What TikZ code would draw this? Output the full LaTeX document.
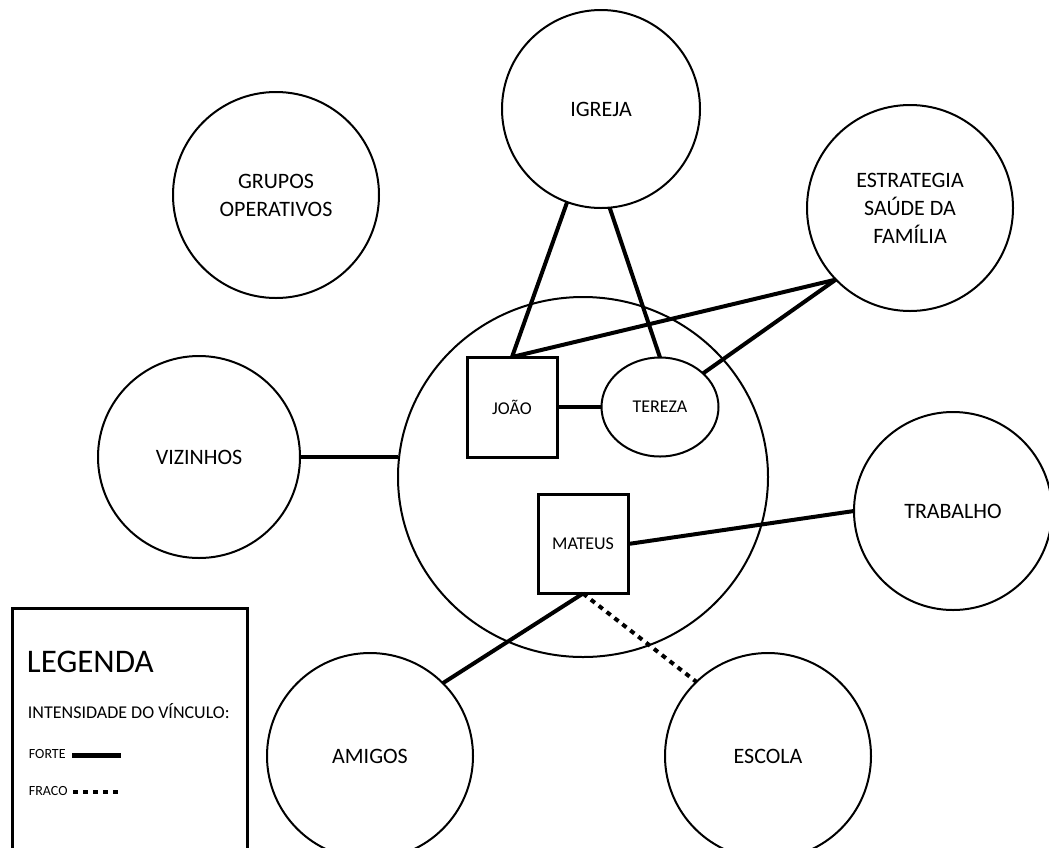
\documentclass[tikz,border=0pt]{standalone}
\usepackage{fontspec}
\setmainfont{Carlito}
\usetikzlibrary{shapes.geometric}

\begin{document}
\begin{tikzpicture}[x = 0.5pt, y = -0.5pt,
        rede/.style = {circle, draw, line width=1pt, inner sep=0pt,
        outer sep=0pt, align=center, font=\fontsize{11}{14}\selectfont},
        membro/.style = {draw, line width=1.5pt, inner sep=0pt, outer sep=0pt,
        font=\fontsize{9}{11}\selectfont},
        forte/.style = {line width=2pt},
        fraco/.style = {line width=2pt, dash pattern=on 2.5pt off 2.5pt}]
        \clip (0,0) rectangle (1049,847);

        % familia
        \node [ellipse, draw, line width=1pt, inner sep=0pt, outer sep=0pt,
        minimum width=185pt, minimum height=180pt] (familia)
        at (583,477) {};
        \node [membro, minimum width=45pt, minimum height=50pt] (joao)
        at (512,407) {JOÃO};
        \node [membro, ellipse, line width=1pt, minimum width=58.5pt,
        minimum height=49.5pt, right of = joao, node distance = 74pt]
        (tereza) {TEREZA};
        \node [membro, minimum width=45pt, minimum height=49.5pt] (mateus)
        at (583,544) {MATEUS};

        % rede social
        \node [rede, minimum size=99pt] (igreja) at (601,109) {IGREJA};
        \node [rede, minimum size=103pt] (grupos) at (276,195)
        {GRUPOS\\OPERATIVOS};
        \node [rede, minimum size=103pt] (esf) at (910,208)
        {ESTRATEGIA\\SAÚDE DA\\FAMÍLIA};
        \node [rede, minimum size=101pt] (vizinhos) at (199,457) {VIZINHOS};
        \node [rede, minimum size=99pt] (trabalho) at (953,511) {TRABALHO};
        \node [rede, minimum size=103pt] (amigos) at (370,756) {AMIGOS};
        \node [rede, minimum size=103pt] (escola) at (768,756) {ESCOLA};

        \draw [forte] (joao.east)--(tereza.west);
        \draw [forte] (igreja.250)--(joao.north);
        \draw [forte] (igreja.275)--(tereza.north);
        \draw [forte] (esf.224)--(joao.north);
        \draw [forte] (esf.224)--(tereza.38);
        \draw [forte] (vizinhos.east)--(familia.west |- vizinhos.east);
        \draw [forte] (mateus.east)--(trabalho.west);
        \draw [forte] (mateus.south)--(amigos.45);
        \draw [fraco] (mateus.south)--(escola.134);

        % legenda
        \draw [line width=1.5pt] (12,608) rectangle (247,880);
        \node [anchor=base west, inner sep=0pt, font=\fontsize{16.5}{20}
        \selectfont] (legenda) at (22,672) {LEGENDA};
        \node [anchor=base west, inner sep=0pt, font=\fontsize{9}{11}
        \selectfont] (intensidade) at (23,718) {INTENSIDADE DO VÍNCULO:};
        \node [anchor=base west, inner sep=0pt, font=\fontsize{7}{9}
        \selectfont] (fortetxt) at (24,758) {FORTE};
        \node [anchor=base west, inner sep=0pt, font=\fontsize{7}{9}
        \selectfont] (fracotxt) at (24,795) {FRACO};
        \draw [line width=2.5pt] (72,755)--(121,755);
        \draw [fraco] (73,792)--(121,792);
\end{tikzpicture}
\end{document}
